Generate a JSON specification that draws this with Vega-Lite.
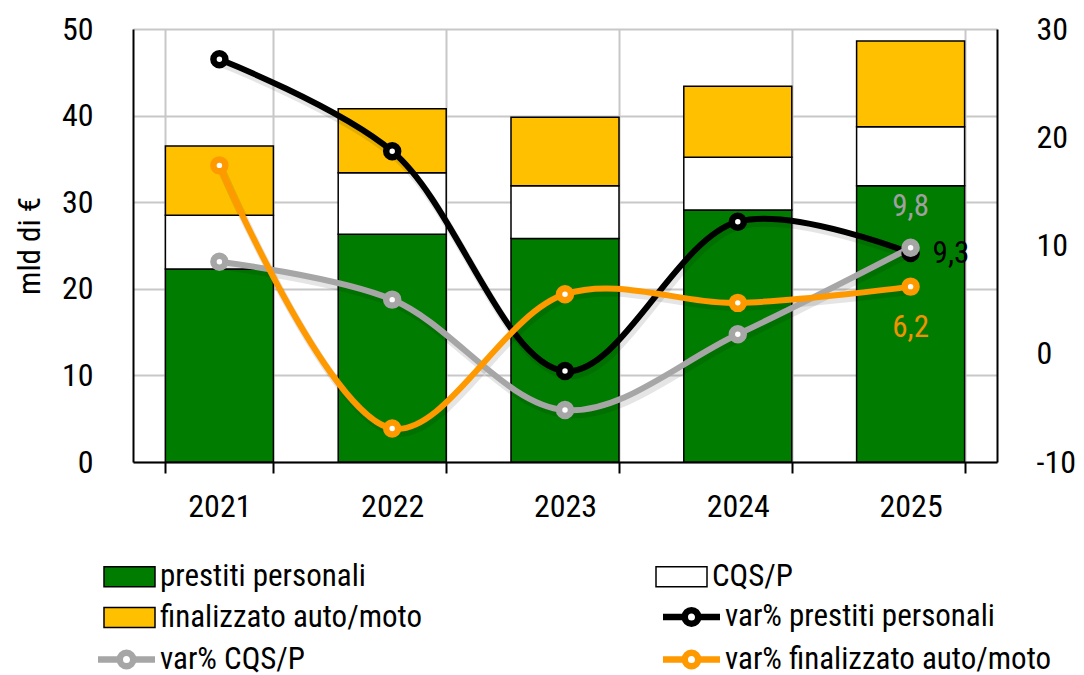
{
  "$schema": "https://vega.github.io/schema/vega-lite/v6.json",
  "width": 864,
  "height": 433,
  "autosize": {"type": "none"},
  "padding": {"left": 133, "top": 29, "right": 87, "bottom": 213},
  "background": "white",
  "config": {
    "view": {"stroke": null},
    "font": "Roboto Condensed, Roboto, sans-serif",
    "axis": {
      "labelFont": "Roboto Condensed, Roboto, sans-serif",
      "labelFontSize": 32,
      "labelColor": "#000000",
      "titleFont": "Roboto Condensed, Roboto, sans-serif",
      "titleFontWeight": "normal",
      "titleColor": "#000000"
    },
    "legend": {
      "labelFont": "Roboto Condensed, Roboto, sans-serif",
      "labelFontSize": 31,
      "labelColor": "#000000",
      "labelOffset": 21,
      "labelLimit": 0,
      "symbolSize": 400,
      "rowPadding": 9
    }
  },
  "datasets": {
    "bars": [
      {"year": "2021", "series": "prestiti personali", "value": 22.3, "ord": 0},
      {"year": "2021", "series": "CQS/P", "value": 6.2, "ord": 1},
      {"year": "2021", "series": "finalizzato auto/moto", "value": 8.0, "ord": 2},
      {"year": "2022", "series": "prestiti personali", "value": 26.3, "ord": 0},
      {"year": "2022", "series": "CQS/P", "value": 7.1, "ord": 1},
      {"year": "2022", "series": "finalizzato auto/moto", "value": 7.4, "ord": 2},
      {"year": "2023", "series": "prestiti personali", "value": 25.8, "ord": 0},
      {"year": "2023", "series": "CQS/P", "value": 6.1, "ord": 1},
      {"year": "2023", "series": "finalizzato auto/moto", "value": 7.9, "ord": 2},
      {"year": "2024", "series": "prestiti personali", "value": 29.1, "ord": 0},
      {"year": "2024", "series": "CQS/P", "value": 6.1, "ord": 1},
      {"year": "2024", "series": "finalizzato auto/moto", "value": 8.2, "ord": 2},
      {"year": "2025", "series": "prestiti personali", "value": 31.9, "ord": 0},
      {"year": "2025", "series": "CQS/P", "value": 6.8, "ord": 1},
      {"year": "2025", "series": "finalizzato auto/moto", "value": 9.9, "ord": 2}
    ],
    "lines": [
      {"year": "2021", "series": "var% prestiti personali", "pct": 27.2, "label": ""},
      {"year": "2022", "series": "var% prestiti personali", "pct": 18.7, "label": ""},
      {"year": "2023", "series": "var% prestiti personali", "pct": -1.6, "label": ""},
      {"year": "2024", "series": "var% prestiti personali", "pct": 12.2, "label": ""},
      {"year": "2025", "series": "var% prestiti personali", "pct": 9.3, "label": "9,3"},
      {"year": "2021", "series": "var% CQS/P", "pct": 8.5, "label": ""},
      {"year": "2022", "series": "var% CQS/P", "pct": 5.0, "label": ""},
      {"year": "2023", "series": "var% CQS/P", "pct": -5.2, "label": ""},
      {"year": "2024", "series": "var% CQS/P", "pct": 1.8, "label": ""},
      {"year": "2025", "series": "var% CQS/P", "pct": 9.8, "label": "9,8"},
      {"year": "2021", "series": "var% finalizzato auto/moto", "pct": 17.4, "label": ""},
      {"year": "2022", "series": "var% finalizzato auto/moto", "pct": -6.9, "label": ""},
      {"year": "2023", "series": "var% finalizzato auto/moto", "pct": 5.5, "label": ""},
      {"year": "2024", "series": "var% finalizzato auto/moto", "pct": 4.7, "label": ""},
      {"year": "2025", "series": "var% finalizzato auto/moto", "pct": 6.2, "label": "6,2"}
    ]
  },
  "encoding": {
    "x": {
      "field": "year",
      "type": "ordinal",
      "title": null,
      "scale": {"paddingInner": 0.375, "paddingOuter": 0.1875},
      "axis": {
        "tickBand": "extent",
        "grid": true,
        "gridColor": "#C8C8C8",
        "gridWidth": 2,
        "domainColor": "#000000",
        "domainWidth": 2,
        "tickColor": "#000000",
        "tickWidth": 2,
        "tickSize": 11,
        "labelPadding": 18,
        "labelAngle": 0,
        "labelBaseline": "top"
      }
    }
  },
  "layer": [
    {
      "data": {"name": "bars"},
      "mark": {"type": "bar", "stroke": "#000000", "strokeWidth": 1.5},
      "encoding": {
        "y": {
          "field": "value",
          "type": "quantitative",
          "stack": "zero",
          "scale": {"domain": [0, 50], "nice": false},
          "axis": {
            "orient": "left",
            "title": "mld di €",
            "titleFontSize": 31,
            "titlePadding": 15,
            "values": [0, 10, 20, 30, 40, 50],
            "grid": true,
            "gridColor": "#C8C8C8",
            "gridWidth": 2,
            "domainColor": "#000000",
            "domainWidth": 2,
            "ticks": false,
            "labelPadding": 40
          }
        },
        "fill": {
          "field": "series",
          "type": "nominal",
          "scale": {
            "domain": ["prestiti personali", "CQS/P", "finalizzato auto/moto"],
            "range": ["#007D00", "#FFFFFF", "#FFC000"]
          },
          "legend": {
            "title": null,
            "orient": "none",
            "direction": "horizontal",
            "legendX": -25,
            "legendY": 532,
            "columns": 2,
            "columnPadding": 230,
            "symbolType": "M-1.95,-1H3.15V1H-1.95Z",
            "symbolStrokeColor": "#000000",
            "symbolStrokeWidth": 1.5,
            "symbolOpacity": 1
          }
        },
        "order": {"field": "ord", "type": "quantitative"}
      }
    },
    {
      "data": {"name": "lines"},
      "encoding": {
        "y": {
          "field": "pct",
          "type": "quantitative",
          "scale": {"domain": [-10, 30], "nice": false},
          "axis": {
            "orient": "right",
            "title": null,
            "values": [-10, 0, 10, 20, 30],
            "grid": false,
            "domainColor": "#000000",
            "domainWidth": 2,
            "ticks": false,
            "labelPadding": 39,
            "labelAlign": "left",
            "labelExpr": "'' + datum.value"
          }
        }
      },
      "layer": [
        {
          "mark": {"type": "line", "interpolate": "catmull-rom", "stroke": "#000000", "strokeWidth": 8, "opacity": 0.1, "xOffset": 2, "yOffset": 4},
          "encoding": {"detail": {"field": "series", "type": "nominal"}}
        },
        {
          "transform": [{"filter": "datum.series === 'var% prestiti personali'"}],
          "mark": {"type": "line", "interpolate": "catmull-rom", "strokeWidth": 6},
          "encoding": {
            "stroke": {
              "field": "series",
              "type": "nominal",
              "scale": {
                "domain": [" ", "var% prestiti personali", "var% CQS/P", "var% finalizzato auto/moto"],
                "range": ["transparent", "#000000", "#A6A6A6", "#FF9900"]
              },
              "legend": {
                "title": null,
                "orient": "none",
                "direction": "horizontal",
                "legendX": -25,
                "legendY": 572,
                "columns": 2,
                "columnPadding": 344,
                "rowPadding": 2,
                "symbolType": "M-2.55,0H-0.38M0.98,0H3.15M0.975,0A0.675,0.675 0 1,1 -0.375,0A0.675,0.675 0 1,1 0.975,0",
                "symbolStrokeWidth": 6.5,
                "symbolFillColor": "transparent",
                "symbolOpacity": 1
              }
            }
          }
        },
        {
          "transform": [{"filter": "datum.series === 'var% CQS/P'"}],
          "mark": {"type": "line", "interpolate": "catmull-rom", "strokeWidth": 6},
          "encoding": {"stroke": {"field": "series", "type": "nominal", "legend": null}}
        },
        {
          "transform": [{"filter": "datum.series === 'var% finalizzato auto/moto'"}],
          "mark": {"type": "line", "interpolate": "catmull-rom", "strokeWidth": 6},
          "encoding": {"stroke": {"field": "series", "type": "nominal", "legend": null}}
        },
        {
          "mark": {"type": "point", "shape": "circle", "size": 143, "strokeWidth": 6.5, "filled": false, "fill": "#FFFFFF", "fillOpacity": 1, "opacity": 1},
          "encoding": {"stroke": {"field": "series", "type": "nominal", "legend": null}}
        },
        {
          "transform": [{"filter": "datum.series === 'var% CQS/P' && datum.year === '2025'"}],
          "mark": {"type": "text", "fontSize": 31, "color": "#A0A0A0", "baseline": "middle", "align": "center", "dy": -41},
          "encoding": {"text": {"field": "label"}}
        },
        {
          "transform": [{"filter": "datum.series === 'var% prestiti personali' && datum.year === '2025'"}],
          "mark": {"type": "text", "fontSize": 31, "color": "#000000", "baseline": "middle", "align": "left", "dx": 22, "dy": 1},
          "encoding": {"text": {"field": "label"}}
        },
        {
          "transform": [{"filter": "datum.series === 'var% finalizzato auto/moto' && datum.year === '2025'"}],
          "mark": {"type": "text", "fontSize": 31, "color": "#F39200", "baseline": "middle", "align": "center", "dy": 41},
          "encoding": {"text": {"field": "label"}}
        }
      ]
    }
  ],
  "resolve": {"scale": {"y": "independent"}, "axis": {"y": "independent"}}
}
